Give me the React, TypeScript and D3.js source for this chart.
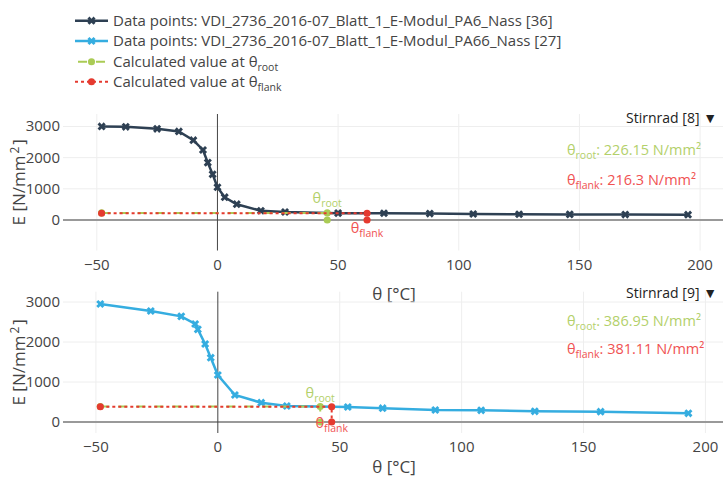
import React from "react";
import * as d3 from "d3";

// ---------- data ----------
const legendLabels = [
  "Data points: VDI_2736_2016-07_Blatt_1_E-Modul_PA6_Nass [36]",
  "Data points: VDI_2736_2016-07_Blatt_1_E-Modul_PA66_Nass [27]",
];
const calcLabelPrefix = "Calculated value at θ";
const calcSubs = ["root", "flank"];

const pa6Temp = [-48, -38, -25, -16, -10, -6, -4, -2, 0, 3, 8, 18, 28, 50, 69, 88, 106, 125, 146, 169, 195];
const pa6E = [3000, 2990, 2925, 2840, 2560, 2245, 1840, 1465, 1050, 730, 505, 295, 255, 218, 215, 205, 192, 183, 178, 173, 168];

const pa66Temp = [-48.2, -27.5, -15, -9.3, -8.2, -5.2, -2.9, 0, 7, 17.8, 28.3, 53.3, 67.6, 89.2, 108, 130, 157, 193];
const pa66E = [2950, 2775, 2642, 2450, 2317, 1950, 1608, 1175, 675, 483, 400, 375, 345, 300, 292, 267, 258, 217];

const panelNames = ["Stirnrad [8]", "Stirnrad [9]"];
const thetaRoot = [45.5, 42];
const eRoot = [226.15, 386.95];
const thetaFlank = [62, 46.7];
const eFlank = [216.3, 381.11];
const eRootText = ["226.15", "386.95"];
const eFlankText = ["216.3", "381.11"];

const xTicks = [-50, 0, 50, 100, 150, 200];
const yTicks = [0, 1000, 2000, 3000];

// ---------- style ----------
const FONT = "'Open Sans', Verdana, Arial, sans-serif";
const TXT = "#444";
const COLORS = ["#2e4053", "#35ade0"];
const GREEN = "#aacb55";
const RED = "#e53a2f";
const GREEN_TXT = "#b3d06a";
const RED_TXT = "#f05252";

const panels = [
  {
    temp: pa6Temp, e: pa6E, color: COLORS[0],
    left: 63, right: 723, top: 114, bottom: 250.5,
    xDomain: [-64, 209.5], yDomain: [-980, 3400],
    xTitleY: 300, nameY: 123, rootTxtY: 155, flankTxtY: 185,
    rootLblDy: -10, flankLblDy: 13,
  },
  {
    temp: pa66Temp, e: pa66E, color: COLORS[1],
    left: 63, right: 723, top: 291.7, bottom: 433,
    xDomain: [-63.5, 207.2], yDomain: [-275, 3258],
    xTitleY: 473, nameY: 298, rootTxtY: 326, flankTxtY: 354,
    rootLblDy: -9, flankLblDy: 6,
  },
];

const xPath = d3.symbol().type(d3.symbolCross).size(42)() as string;
const dotPath = d3.symbol().type(d3.symbolCircle).size(40)() as string;

function Panel({ p, i }: { p: any; i: number }) {
  const x = d3.scaleLinear().domain(p.xDomain).range([p.left, p.right]);
  const y = d3.scaleLinear().domain(p.yDomain).range([p.bottom, p.top]);
  const pts: [number, number][] = p.temp.map((t: number, k: number) => [t, p.e[k]]);
  const line = d3.line<[number, number]>().x((d) => x(d[0])).y((d) => y(d[1]));
  const x0 = p.temp[0];
  const rootPts: [number, number][] = [[x0, eRoot[i]], [thetaRoot[i], eRoot[i]], [thetaRoot[i], 0]];
  const flankPts: [number, number][] = [[x0, eFlank[i]], [thetaFlank[i], eFlank[i]], [thetaFlank[i], 0]];
  const midY = (p.top + p.bottom) / 2;
  return (
    <g>
      {/* grid */}
      {xTicks.filter((t) => t !== 0).map((t) => (
        <line key={"gx" + t} x1={x(t)} x2={x(t)} y1={p.top} y2={p.bottom} stroke="#eee" strokeWidth={1} />
      ))}
      {yTicks.filter((t) => t !== 0).map((t) => (
        <line key={"gy" + t} x1={p.left} x2={p.right} y1={y(t)} y2={y(t)} stroke="#eee" strokeWidth={1} />
      ))}
      {/* zero lines */}
      <line x1={p.left} x2={p.right} y1={y(0)} y2={y(0)} stroke="#999" strokeWidth={2} />
      <line x1={x(0)} x2={x(0)} y1={p.top} y2={p.bottom} stroke="#444" strokeWidth={1} />
      {/* tick labels */}
      {xTicks.map((t) => (
        <text key={"tx" + t} x={x(t)} y={p.bottom + 19} textAnchor="middle" fontSize={15} fill={TXT}>
          {t < 0 ? "\u2212" + Math.abs(t) : t}
        </text>
      ))}
      {yTicks.map((t) => (
        <text key={"ty" + t} x={60} y={y(t) + 5} textAnchor="end" fontSize={15} fill={TXT}>
          {t}
        </text>
      ))}
      {/* axis titles */}
      <text x={394} y={p.xTitleY} textAnchor="middle" fontSize={17} fill={TXT}>θ [°C]</text>
      <text transform={`translate(25,${midY}) rotate(-90)`} textAnchor="middle" fontSize={17} fill={TXT}>
        E [N/mm<tspan fontSize={12} dy={-6} dx={2}>2</tspan><tspan dy={6} dx={2}>]</tspan>
      </text>
      {/* data */}
      <path d={line(pts) as string} fill="none" stroke={p.color} strokeWidth={2.5} />
      {pts.map((d, k) => (
        <path key={"m" + k} d={xPath} transform={`translate(${x(d[0])},${y(d[1])}) rotate(45)`} fill={p.color} />
      ))}
      {/* calculated root */}
      <path d={line(rootPts) as string} fill="none" stroke={GREEN} strokeWidth={2} strokeDasharray="9,9" />
      {rootPts.map((d, k) => (
        <path key={"r" + k} d={dotPath} transform={`translate(${x(d[0])},${y(d[1])})`} fill={GREEN} />
      ))}
      {/* calculated flank */}
      <path d={line(flankPts) as string} fill="none" stroke={RED} strokeWidth={2} strokeDasharray="3,3" />
      {flankPts.map((d, k) => (
        <path key={"f" + k} d={dotPath} transform={`translate(${x(d[0])},${y(d[1])})`} fill={RED} />
      ))}
      {/* point labels */}
      <text x={x(thetaRoot[i])} y={y(eRoot[i]) + p.rootLblDy} textAnchor="middle" fontSize={14.5} fill={GREEN_TXT}>
        θ<tspan fontSize={10.5} dy={4}>root</tspan>
      </text>
      <text x={x(thetaFlank[i])} y={y(0) + p.flankLblDy} textAnchor="middle" fontSize={14.5} fill={RED_TXT}>
        θ<tspan fontSize={10.5} dy={4}>flank</tspan>
      </text>
      {/* panel name */}
      <text x={717} y={p.nameY} textAnchor="end" fontSize={14} fill="#222">{panelNames[i]} ▼</text>
      {/* value texts */}
      <text x={567} y={p.rootTxtY} fontSize={14.5} fill={GREEN_TXT}>
        θ<tspan fontSize={10.5} dy={4}>root</tspan><tspan dy={-4}>: {eRootText[i]} N/mm²</tspan>
      </text>
      <text x={567} y={p.flankTxtY} fontSize={14.5} fill={RED_TXT}>
        θ<tspan fontSize={10.5} dy={4}>flank</tspan><tspan dy={-4}>: {eFlankText[i]} N/mm²</tspan>
      </text>
    </g>
  );
}

function Legend() {
  const rows = [20.7, 41, 61.7, 81.7];
  const x1 = 75, x2 = 108, xm = 91.5, tx = 113;
  return (
    <g>
      {legendLabels.map((lab, k) => (
        <g key={"l" + k}>
          <line x1={x1} x2={x2} y1={rows[k]} y2={rows[k]} stroke={COLORS[k]} strokeWidth={2.5} />
          <path d={xPath} transform={`translate(${xm},${rows[k]}) rotate(45)`} fill={COLORS[k]} />
          <text x={tx} y={rows[k] + 5} fontSize={15} fill={TXT}>{lab}</text>
        </g>
      ))}
      <line x1={x1} x2={x2} y1={rows[2]} y2={rows[2]} stroke={GREEN} strokeWidth={2} strokeDasharray="9,9" strokeDashoffset={-3} />
      <path d={dotPath} transform={`translate(${xm},${rows[2]})`} fill={GREEN} />
      <text x={tx} y={rows[2] + 5} fontSize={15} fill={TXT}>
        {calcLabelPrefix}<tspan fontSize={10.5} dy={4}>{calcSubs[0]}</tspan>
      </text>
      <line x1={x1} x2={x2} y1={rows[3]} y2={rows[3]} stroke={RED} strokeWidth={2} strokeDasharray="3,3" />
      <path d={dotPath} transform={`translate(${xm},${rows[3]})`} fill={RED} />
      <text x={tx} y={rows[3] + 5} fontSize={15} fill={TXT}>
        {calcLabelPrefix}<tspan fontSize={10.5} dy={4}>{calcSubs[1]}</tspan>
      </text>
    </g>
  );
}

export default function App() {
  return (
    <svg
      width={723}
      height={479}
      style={{ position: "absolute", left: 0, top: 0, background: "#fff", fontFamily: FONT }}
    >
      <rect width={723} height={479} fill="#fff" />
      {panels.map((p, i) => (
        <Panel key={i} p={p} i={i} />
      ))}
      <Legend />
    </svg>
  );
}
